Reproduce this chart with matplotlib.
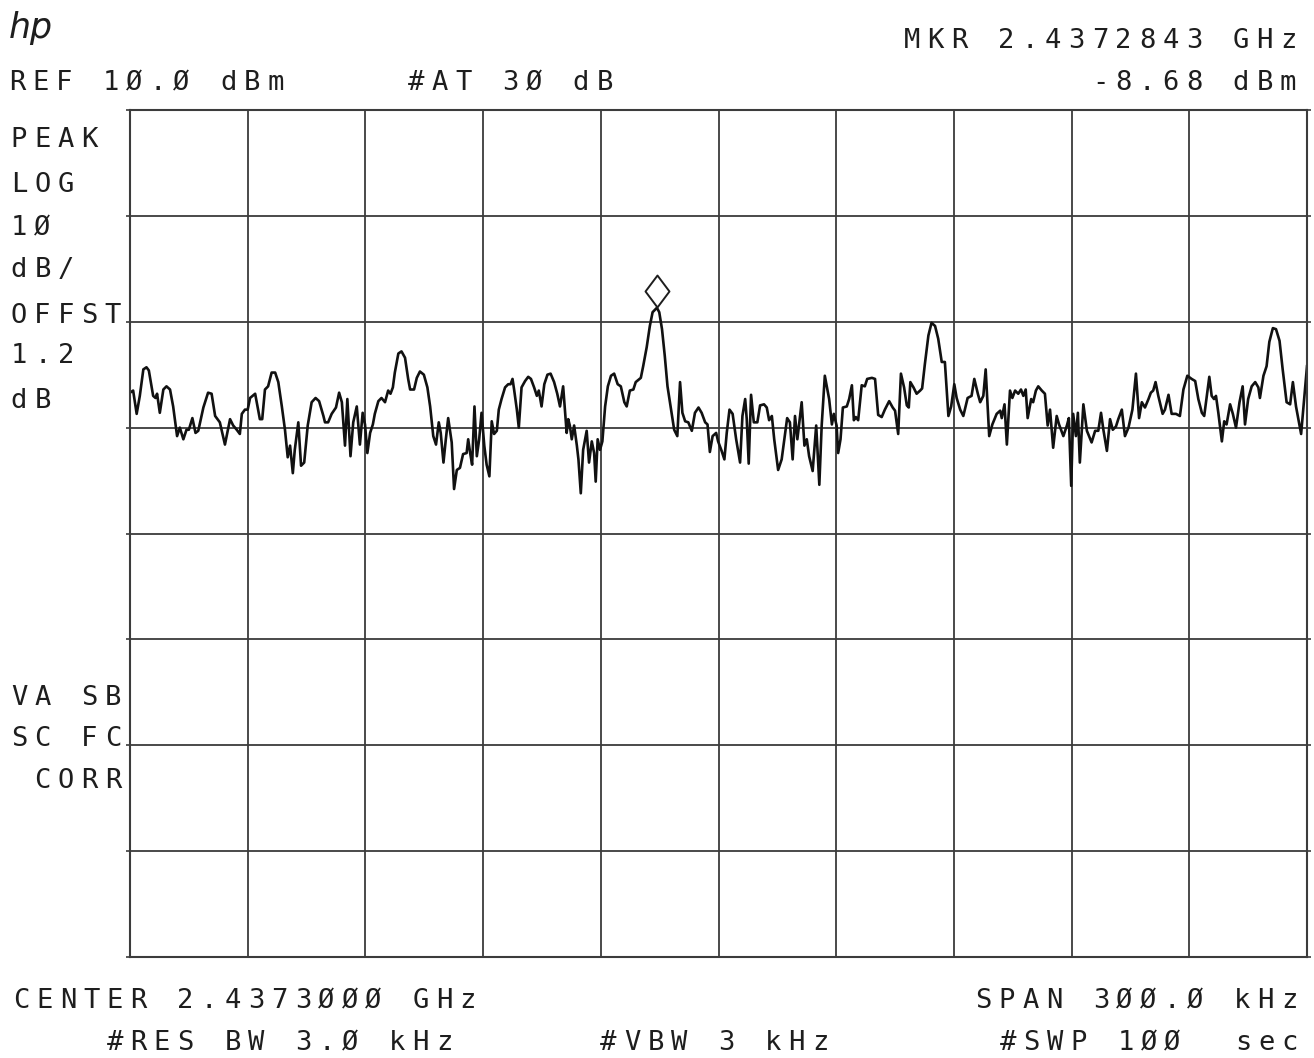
import numpy as np
import matplotlib
matplotlib.use("Agg")
import matplotlib.pyplot as plt
import matplotlib.transforms as mtransforms
from matplotlib.path import Path

# analyzer settings
center_ghz = 2.4373
span_khz = 300.0
ref_dbm = 10.0
db_per_div = 10
mkr_khz = -15.7
mkr_dbm = -8.68

# trace: offset from center (kHz), level (dBm)
freq_khz = [
    -150.0, -149.2, -148.3, -147.5, -146.6, -145.8, -145.2, -144.1, -143.5, -143.1,
    -142.4, -141.5, -140.7, -139.8, -139.0, -138.0, -137.3, -136.4, -135.6, -135.0,
    -134.1, -133.3, -132.6, -131.3, -130.1, -129.2, -128.3, -127.1, -125.8, -124.5,
    -123.7, -122.8, -122.0, -121.5, -120.7, -120.0, -119.4, -118.1, -116.9, -116.3,
    -115.6, -114.8, -113.9, -113.0, -112.2, -111.3, -110.5, -109.8, -109.2, -108.5,
    -108.0, -107.1, -106.4, -105.6, -104.7, -103.7, -102.7, -101.8, -100.7, -100.3,
    -99.5, -98.6, -97.5, -96.7, -96.0, -95.2, -94.6, -93.8, -93.1, -92.2,
    -91.4, -90.7, -90.1, -89.5, -88.8, -88.1, -87.6, -86.7, -85.9, -85.0,
    -84.2, -83.6, -83.0, -82.5, -81.6, -80.8, -79.9, -79.1, -78.6, -77.6,
    -76.9, -76.1, -75.1, -74.2, -73.5, -72.7, -72.0, -71.3, -70.8, -70.1,
    -69.5, -68.9, -68.0, -67.4, -66.7, -65.9, -65.1, -64.2, -63.8, -63.3,
    -62.8, -62.2, -61.6, -61.0, -60.4, -59.7, -59.1, -58.4, -57.8, -57.2,
    -56.5, -56.0, -55.3, -54.4, -53.6, -53.0, -52.5, -52.1, -51.4, -50.9,
    -50.2, -49.3, -48.5, -47.8, -47.0, -46.3, -45.8, -45.1, -44.4, -43.6,
    -42.8, -41.9, -41.1, -40.4, -39.6, -39.1, -38.7, -38.3, -37.9, -37.4,
    -36.8, -36.1, -35.7, -35.1, -34.5, -33.6, -33.0, -32.3, -31.7, -31.3,
    -30.8, -30.2, -29.6, -28.9, -28.2, -27.4, -26.6, -25.7, -24.9, -24.0,
    -23.4, -22.6, -21.7, -21.1, -19.8, -19.2, -18.3, -17.5, -16.8, -15.7,
    -15.1, -14.4, -13.7, -13.0, -12.2, -11.3, -10.5, -9.8, -9.2, -8.5,
    -7.7, -6.8, -6.0, -5.1, -4.3, -3.4, -2.8, -2.2, -1.5, -0.6,
    -0.1, 0.8, 1.5, 2.1, 2.8, 3.6, 4.5, 5.5, 6.1, 6.8,
    7.2, 7.7, 8.3, 9.0, 9.9, 10.6, 11.6, 12.3, 12.9, 13.6,
    14.2, 15.2, 16.1, 17.0, 17.5, 18.2, 18.9, 19.5, 20.1, 20.6,
    21.2, 21.9, 22.5, 23.1, 24.0, 24.9, 25.7, 26.3, 27.1, 28.2,
    28.9, 29.4, 30.1, 30.5, 31.1, 31.7, 32.7, 33.3, 34.0, 34.5,
    35.0, 35.6, 36.5, 37.3, 37.9, 39.1, 39.9, 40.7, 41.6, 42.4,
    43.5, 44.4, 45.0, 45.8, 46.5, 47.3, 48.0, 48.5, 48.9, 49.7,
    50.5, 51.4, 51.9, 52.6, 53.5, 54.3, 55.2, 56.0, 56.9, 57.7,
    58.6, 59.3, 60.1, 60.7, 61.6, 62.4, 63.5, 64.5, 65.2, 66.1,
    66.7, 67.5, 68.1, 69.0, 69.8, 70.9, 71.8, 72.2, 72.9, 73.5,
    74.3, 74.9, 75.6, 76.4, 77.1, 77.7, 78.3, 78.8, 79.7, 80.2,
    80.9, 81.5, 82.4, 83.2, 83.9, 84.5, 85.3, 86.2, 86.8, 87.9,
    88.8, 89.3, 89.9, 90.4, 91.1, 91.6, 92.1, 93.0, 93.9, 95.1,
    96.0, 96.8, 97.5, 98.1, 99.0, 99.8, 100.5, 101.3, 101.9, 102.8,
    103.6, 104.5, 105.5, 106.4, 107.2, 107.9, 108.7, 109.6, 110.2, 110.8,
    111.4, 112.1, 113.2, 113.8, 114.7, 115.5, 116.6, 117.6, 118.5, 119.5,
    120.6, 121.5, 122.3, 123.2, 123.8, 124.4, 125.1, 125.7, 126.3, 126.8,
    127.4, 128.3, 128.9, 129.5, 130.4, 131.1, 131.9, 132.8, 133.6, 134.2,
    135.0, 135.9, 136.8, 137.6, 138.0, 138.9, 139.7, 140.4, 141.3, 142.1,
    143.0, 143.8, 144.8, 145.7, 146.4, 147.2, 147.8, 148.5, 149.2, 150.0,
]
level_dbm = [
    -16.7, -16.5, -18.7, -17.0, -14.5, -14.3, -14.6, -17.0, -17.2, -16.8,
    -18.6, -16.4, -16.1, -16.4, -18.0, -20.8, -20.0, -21.1, -20.2, -20.2,
    -19.1, -20.5, -20.3, -18.1, -16.7, -16.8, -18.9, -19.5, -21.6, -19.2,
    -19.8, -20.2, -20.6, -18.7, -18.3, -18.3, -17.2, -16.8, -19.2, -19.2,
    -16.4, -16.1, -14.8, -14.8, -15.7, -18.0, -20.2, -22.8, -21.7, -24.3,
    -22.1, -19.5, -23.6, -23.3, -19.8, -17.6, -17.2, -17.5, -18.9, -19.5,
    -19.5, -18.7, -18.1, -16.7, -17.6, -21.7, -17.3, -22.7, -19.5, -18.0,
    -21.6, -18.6, -19.7, -22.4, -20.5, -19.7, -18.7, -17.5, -17.2, -17.6,
    -16.5, -16.8, -16.2, -14.8, -13.0, -12.8, -13.4, -15.4, -16.4, -16.4,
    -15.3, -14.7, -15.0, -16.2, -18.0, -20.8, -21.6, -19.5, -20.5, -23.3,
    -21.1, -19.1, -21.4, -25.8, -24.0, -23.8, -22.5, -22.4, -21.1, -22.4,
    -23.5, -18.0, -22.7, -21.1, -18.6, -21.7, -23.5, -24.6, -19.4, -20.6,
    -20.3, -18.3, -17.3, -16.2, -15.9, -15.9, -15.4, -16.4, -18.3, -20.0,
    -16.2, -15.6, -15.2, -15.4, -16.2, -17.0, -16.5, -18.0, -15.9, -15.0,
    -14.9, -15.7, -16.8, -18.0, -16.1, -18.6, -20.5, -19.2, -19.8, -21.1,
    -19.8, -21.7, -23.0, -26.2, -22.1, -20.3, -23.3, -21.3, -22.4, -25.1,
    -21.1, -22.1, -21.3, -18.0, -16.1, -15.1, -14.9, -15.9, -16.1, -17.6,
    -18.0, -16.5, -16.4, -15.7, -15.3, -14.2, -12.4, -10.4, -9.1, -8.68,
    -9.1, -10.7, -13.2, -16.1, -18.0, -20.2, -20.8, -15.7, -18.6, -19.4,
    -19.5, -20.3, -18.6, -18.1, -18.6, -19.5, -19.7, -22.3, -20.8, -20.5,
    -21.3, -22.2, -23.0, -20.5, -18.3, -18.7, -21.1, -23.3, -18.9, -17.3,
    -19.2, -23.4, -16.9, -19.5, -19.5, -17.9, -17.8, -18.1, -19.3, -18.9,
    -21.1, -24.0, -23.0, -20.5, -19.1, -19.5, -23.0, -18.9, -21.1, -19.5,
    -17.6, -21.7, -21.1, -22.7, -24.1, -19.8, -25.4, -19.8, -15.1, -17.3,
    -19.7, -18.7, -19.8, -22.4, -21.1, -18.1, -18.0, -17.3, -16.0, -19.3,
    -19.0, -19.3, -16.0, -16.1, -15.4, -15.3, -15.4, -18.8, -19.0, -18.3,
    -17.5, -18.1, -18.4, -20.6, -14.9, -16.2, -17.9, -18.1, -15.7, -16.2,
    -16.8, -16.5, -16.3, -14.0, -11.3, -10.1, -10.4, -11.6, -13.8, -13.8,
    -18.9, -18.0, -15.9, -17.2, -18.3, -18.9, -17.2, -17.0, -15.4, -16.8,
    -17.6, -17.0, -14.5, -20.8, -19.7, -18.7, -18.4, -19.1, -17.8, -21.6,
    -16.5, -17.2, -16.5, -16.8, -16.4, -17.0, -16.4, -19.1, -17.3, -17.6,
    -16.5, -16.1, -16.5, -16.8, -19.8, -18.3, -21.9, -18.9, -19.7, -20.8,
    -19.8, -19.1, -25.5, -18.7, -20.8, -18.6, -23.3, -17.8, -20.3, -21.4,
    -20.3, -20.3, -18.6, -20.2, -22.2, -19.2, -20.2, -19.9, -19.2, -18.3,
    -20.8, -20.0, -18.3, -14.9, -19.1, -17.6, -18.1, -17.3, -16.7, -16.5,
    -15.7, -17.0, -18.7, -18.3, -16.9, -18.7, -18.7, -18.9, -16.4, -15.1,
    -15.4, -15.6, -17.3, -18.6, -18.9, -17.2, -15.2, -17.0, -17.3, -17.0,
    -18.6, -21.3, -19.4, -19.7, -17.8, -18.7, -20.0, -17.6, -16.1, -19.7,
    -17.3, -16.1, -15.7, -16.2, -17.2, -15.1, -14.2, -11.9, -10.6, -10.7,
    -11.8, -14.5, -17.6, -17.8, -15.7, -18.0, -19.2, -20.6, -17.6, -14.2,
]

# annotation text (HP plotter style, slashed zeros)
top_right = ["MKR 2.4372843 GHz", "-8.68 dBm"]
top_left = "REF 1Ø.Ø dBm     #AT 3Ø dB"
side_top = ["PEAK", "LOG", "1Ø", "dB/", "OFFST", "1.2", "dB"]
side_bottom = ["VA SB", "SC FC", " CORR"]
bottom_1 = "CENTER 2.4373ØØØ GHz"
bottom_1r = "SPAN 3ØØ.Ø kHz"
bottom_2 = "    #RES BW 3.Ø kHz      #VBW 3 kHz       #SWP 1ØØ  sec"

W, H = 1314, 1058
INK = "#1e1e1e"
GRID = "#3c3c3c"
PITCH = 23.5
FS = 19.5

fig = plt.figure(figsize=(W / 100, H / 100), dpi=100)
fig.patch.set_facecolor("white")
ax = fig.add_axes([130 / W, 1 - 957 / H, 1177 / W, 847 / H])

half = span_khz / 2
ax.set_xlim(-half, half)
ax.set_ylim(ref_dbm - 8 * db_per_div, ref_dbm)
ax.set_xticks(np.linspace(-half, half, 11))
ax.set_yticks(np.arange(ref_dbm - 8 * db_per_div, ref_dbm + 1, db_per_div))
ax.grid(True, color=GRID, linewidth=1.3)
ax.tick_params(labelleft=False, labelbottom=False, left=True, right=True,
               bottom=False, length=3, width=1.2, color=GRID)
for sp in ax.spines.values():
    sp.set_color(GRID)
    sp.set_linewidth(1.5)

ax.plot(freq_khz, level_dbm, color="#111111", linewidth=1.9,
        solid_joinstyle="round")

# marker diamond sitting just above the peak
diamond = Path([(0, 1), (0.75, 0), (0, -1), (-0.75, 0), (0, 1)],
               [Path.MOVETO, Path.LINETO, Path.LINETO, Path.LINETO, Path.CLOSEPOLY])
up = mtransforms.offset_copy(ax.transData, fig=fig, y=16.5, units="dots")
ax.plot([mkr_khz], [mkr_dbm], marker=diamond, markersize=23, linestyle="none",
        markerfacecolor="white", markeredgecolor=INK, markeredgewidth=1.4,
        transform=up, clip_on=False)


def hp_text(x0, base, s):
    # fixed-pitch lettering like the plotter font
    for i, ch in enumerate(s):
        if ch.strip():
            fig.text((x0 + i * PITCH) / W, 1 - base / H, ch, ha="center",
                     va="baseline", fontsize=FS, family="DejaVu Sans Mono",
                     color=INK)


def hp_text_right(x_end, base, s):
    hp_text(x_end - (len(s) - 1) * PITCH, base, s)


fig.text(31 / W, 1 - 38 / H, "hp", ha="center", va="baseline", fontsize=25,
         style="oblique", weight="light", family="DejaVu Sans", color=INK)

hp_text_right(1288, 48, top_right[0])
hp_text_right(1288, 90, top_right[1])
hp_text(17, 90, top_left)

for k, s in enumerate(side_top):
    hp_text(19, [147, 192, 235, 277, 323, 363, 408][k], s)
for k, s in enumerate(side_bottom):
    hp_text(19, [705, 746, 788][k], s)

hp_text(21, 1008, bottom_1)
hp_text_right(1289, 1008, bottom_1r)
hp_text(21, 1050, bottom_2)

fig.savefig("out.png", dpi=100, facecolor="white")
